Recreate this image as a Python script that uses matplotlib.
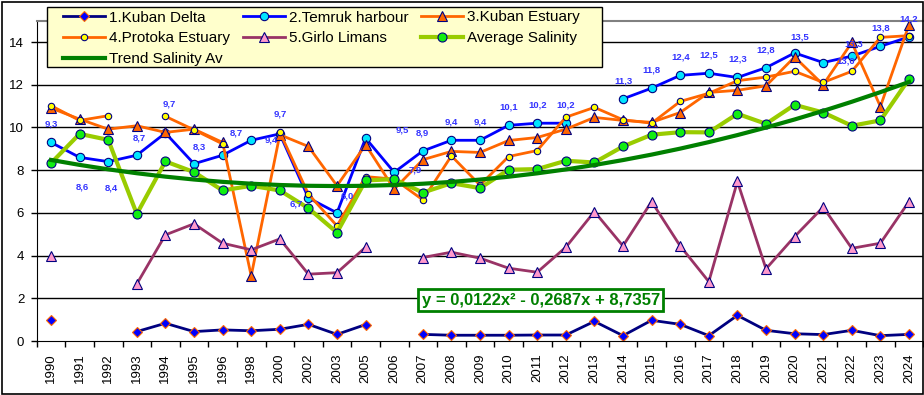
import numpy as np
import matplotlib
matplotlib.use('Agg')
import matplotlib.pyplot as plt
from matplotlib.patches import Rectangle

plt.rcParams['font.family'] = ['Liberation Sans', 'DejaVu Sans']

nan = np.nan
years = ['1990', '1991', '1992', '1993', '1994', '1995', '1996', '1998', '2000', '2002',
         '2003', '2005', '2006', '2007', '2008', '2009', '2010', '2011', '2012', '2013',
         '2014', '2015', '2016', '2017', '2018', '2019', '2020', '2021', '2022', '2023', '2024']

kuban_delta = [0.97, nan, nan, 0.44, 0.83, 0.44, 0.52, 0.48, 0.55, 0.78, 0.31, 0.77, nan, 0.31,
               0.27, 0.27, 0.27, 0.28, 0.28, 0.92, 0.25, 0.97, 0.78, 0.25, 1.2, 0.5, 0.34, 0.3,
               0.5, 0.25, 0.31]
temruk = [9.3, 8.6, 8.4, 8.7, 9.74, 8.3, 8.7, 9.4, 9.7, 6.7, 6.0, 9.5, 7.9, 8.9, 9.4, 9.4,
          10.1, 10.2, 10.2, nan, 11.34, 11.84, 12.44, 12.54, 12.34, 12.8, 13.49, 13.04, 13.34,
          13.8, 14.24]
kuban_estuary = [10.91, 10.39, 9.92, 10.08, 9.77, 9.92, 9.3, 3.05, 9.66, 9.11, 7.27, 9.19, 7.11,
                 8.49, 8.88, 8.83, 9.39, 9.53, 9.92, 10.47, 10.33, 10.24, 10.7, 11.64, 11.74,
                 11.95, 13.3, 12.0, 13.98, 10.98, 14.81]
protoka = [11.02, 10.33, 10.55, nan, 10.52, 9.89, 9.23, nan, 9.78, 6.88, 5.39, 7.7, 7.58, 6.61,
           8.67, 7.3, 8.64, 8.92, 10.48, 10.94, 10.36, 10.2, 11.22, 11.6, 12.19, 12.36, 12.63,
           12.11, 12.63, 14.22, 14.3]
girlo = [4.0, nan, nan, 2.67, 4.97, 5.49, 4.58, 4.27, 4.78, 3.13, 3.2, 4.39, nan, 3.91, 4.16,
         3.88, 3.41, 3.22, 4.39, 6.06, 4.45, 6.53, 4.45, 2.78, 7.47, 3.38, 4.89, 6.27, 4.34,
         4.58, 6.53]
average = [8.33, 9.7, 9.42, 5.95, 8.41, 7.91, 7.05, 7.27, 7.05, 6.22, 5.08, 7.52, 7.58, 6.95,
           7.39, 7.16, 8.02, 8.05, 8.44, 8.36, 9.11, 9.66, 9.78, 9.77, 10.64, 10.17, 11.06, 10.7,
           10.08, 10.33, 12.27]
trend_coef = [0.0122, -0.2687, 8.7357]   # y = a x^2 + b x + c, x = 1..N
trend_label = 'y = 0,0122x² - 0,2687x + 8,7357'

# label offsets (pixels) for Temruk data labels
label_offsets = {1: (3, -30), 2: (3, -26), 3: (3, 17), 4: (4, 29), 5: (5, 17), 6: (14, 22),
                 7: (20, 0), 8: (0, 20), 9: (-12, -6), 10: (10, 17), 11: (37, 8), 12: (21, 2),
                 26: (5, 16), 27: (22, 2), 28: (2, 12)}

W, H = 924, 395
fig = plt.figure(figsize=(W / 100, H / 100), dpi=100)
fig.patch.set_facecolor('white')
ax = fig.add_axes([36.7 / W, 54 / H, (923.3 - 36.7) / W, 320.3 / H])

x = np.arange(len(years))
NAVY = '#000080'

ax.set_xlim(-0.5, len(years) - 0.5)
ax.set_ylim(0, 15)
for yv in range(2, 15, 2):
    ax.axhline(yv, color='black', lw=1, zorder=0.5)

h1, = ax.plot(x, kuban_delta, color=NAVY, lw=2, marker='D', ms=5, mfc='#0000FF', mec='#FF6600',
              mew=0.8, label='1.Kuban Delta', zorder=2)
h2, = ax.plot(x, temruk, color='#0000FF', lw=2, marker='o', ms=6, mfc='#00E5FF', mec=NAVY,
              mew=0.8, label='2.Temruk harbour', zorder=2.1)
h3, = ax.plot(x, kuban_estuary, color='#FF6600', lw=2, marker='^', ms=6.5, mfc='#FF6600', mec=NAVY,
              mew=0.8, label='3.Kuban Estuary', zorder=2.2)
h4, = ax.plot(x, protoka, color='#FF6600', lw=2, marker='o', ms=4.6, mfc='#FFFF00', mec=NAVY,
              mew=0.8, label='4.Protoka Estuary', zorder=2.3)
h5, = ax.plot(x, girlo, color='#993366', lw=2, marker='^', ms=6.5, mfc='#FF99CC', mec=NAVY,
              mew=0.8, label='5.Girlo Limans', zorder=2.4)
h6, = ax.plot(x, average, color='#99CC00', lw=3, marker='o', ms=6.5, mfc='#11EE11', mec=NAVY,
              mew=0.8, label='Average Salinity', zorder=2.5)
xt = x + 1
trend = trend_coef[0] * xt ** 2 + trend_coef[1] * xt + trend_coef[2]
h7, = ax.plot(x, trend, color='#008000', lw=3, label='Trend Salinity Av', zorder=2.6)

for i, v in enumerate(temruk):
    if np.isnan(v):
        continue
    dx, dy = label_offsets.get(i, (0, 18))
    ax.annotate(f'{v:.1f}'.replace('.', ','), (i, v), xytext=(dx, dy), textcoords='offset pixels',
                ha='center', va='center', fontsize=6.8, fontweight='bold', color='#3333FF',
                zorder=3)

ax.set_yticks(range(0, 15, 2))
ax.tick_params(axis='y', direction='out', length=4, width=1, labelsize=9.5, pad=5)
ax.set_xticks(x)
ax.set_xticklabels(years, rotation=90)
ax.tick_params(axis='x', which='major', length=0, labelsize=9.5, pad=9)
ax.set_xticks(np.arange(-0.5, len(years), 1), minor=True)
ax.tick_params(axis='x', which='minor', direction='out', length=4, width=1)
for s in ['left', 'bottom']:
    ax.spines[s].set_color('black')
ax.spines['top'].set_color('#808080')
ax.spines['top'].set_linewidth(1.5)
ax.spines['right'].set_visible(False)

# legend box
fig.add_artist(Rectangle((47 / W, 1 - 66.7 / H), (601.7 - 47) / W, (66.7 - 7) / H,
                         transform=fig.transFigure, fc='#FFFFCC', ec='black', lw=1, zorder=6))
handles = [h1, h4, h7, h2, h5, h3, h6]
leg = fig.legend(handles=handles, labels=[h.get_label() for h in handles], ncol=3,
                 loc='upper left', bbox_to_anchor=(63 / W, 1 - 70 / H, (580 - 63) / W, (70 - 10.5) / H),
                 mode='expand', borderaxespad=0, borderpad=0, fontsize=11, handlelength=2.75,
                 handletextpad=0.26, numpoints=1, frameon=False, labelspacing=0.44)
leg.set_zorder(7)

fig.text(540.8 / W, 1 - 300.2 / H, trend_label, ha='center', va='center', fontsize=12,
         fontweight='bold', color='#008000',
         bbox=dict(boxstyle='square,pad=0.2', fc='white', ec='#008000', lw=2), zorder=5)

fig.add_artist(Rectangle((1.5 / W, 1.5 / H), (922.5 - 1.5) / W, (393.5 - 1.5) / H,
                         transform=fig.transFigure, fill=False, ec='black', lw=1.2, zorder=10))

fig.savefig('out.png', dpi=100)
